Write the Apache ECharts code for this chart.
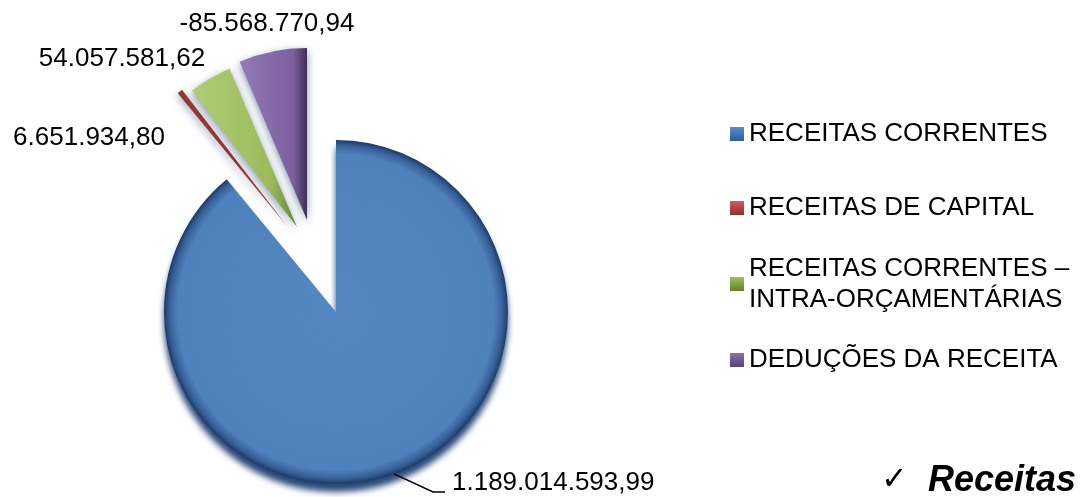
<!DOCTYPE html>
<html><head><meta charset="utf-8">
<script src="https://cdn.jsdelivr.net/npm/echarts@6/dist/echarts.min.js"></script>
<style>html,body{margin:0;padding:0;background:#fff}#c{width:1086px;height:497px}</style>
</head><body><div id="c"></div>
<script>
// ---- data ----
const categories = ['RECEITAS CORRENTES', 'RECEITAS DE CAPITAL', 'RECEITAS CORRENTES – INTRA-ORÇAMENTÁRIAS', 'DEDUÇÕES DA RECEITA'];
const values = [1189014593.99, 6651934.80, 54057581.62, -85568770.94];
const legendLabels = ['RECEITAS CORRENTES', 'RECEITAS DE CAPITAL', 'RECEITAS CORRENTES –\nINTRA-ORÇAMENTÁRIAS', 'DEDUÇÕES DA RECEITA'];
const noteText = 'Receitas';

// ---- helpers ----
function fmtBR(v) {
  const neg = v < 0;
  let [i, d] = Math.abs(v).toFixed(2).split('.');
  i = i.replace(/\B(?=(\d{3})+(?!\d))/g, '.');
  return (neg ? '-' : '') + i + ',' + d;
}
const G = echarts.graphic;
const fills = [
  new G.RadialGradient(0.5, 0.5, 0.5, [
    {offset: 0, color: '#5587c3'}, {offset: 0.92, color: '#4f81bd'},
    {offset: 0.97, color: '#365f97'}, {offset: 1, color: '#1d3a63'}]),
  '#943634',
  new G.LinearGradient(0, 0, 1, 0, [
    {offset: 0, color: '#b0cd76'}, {offset: 0.75, color: '#9bbb59'}, {offset: 1, color: '#66823a'}]),
  new G.LinearGradient(0, 0, 1, 0, [
    {offset: 0, color: '#937ab6'}, {offset: 0.8, color: '#7c5f9f'}, {offset: 1, color: '#3d2e52'}])
];
const legendColors = [['#5d8ccb', '#2f5d99'], ['#d0605c', '#8e2f2d'], ['#9dbf5c', '#647f2f'], ['#8a70ad', '#55427a']];
const legendCenters = [134, 208, 284, 360];
const spots = {1: [89, 138], 2: [122, 59], 3: [267, 24]};

// each slice drawn by its own pie (same data), the small ones exploded away from the centre
const pieCenters = [[336, 312], [287, 226], [297, 227], [307, 220]];
const R = 172;
const pieData = categories.map((c, i) => ({name: c, value: Math.abs(values[i])}));
const clear = 'rgba(0,0,0,0)';

function slicePie(k) {
  return {
    type: 'pie', center: pieCenters[k], radius: R, startAngle: 90, clockwise: true,
    silent: true, selectedMode: false, emphasis: {disabled: true},
    label: {show: false}, labelLine: {show: false},
    z: k === 0 ? 2 : 3,
    data: pieData.map((d, i) => Object.assign({}, d, {
      itemStyle: i === k
        ? (k === 0
          ? {color: fills[i], shadowBlur: 6, shadowColor: 'rgba(30,62,112,0.95)', shadowOffsetY: 8}
          : {color: fills[i], shadowBlur: 8, shadowColor: 'rgba(25,55,100,0.55)', shadowOffsetY: 3})
        : {color: clear, shadowBlur: 0}
    }))
  };
}

const option = {
  backgroundColor: '#fff',
  animation: false,
  title: {
    text: '{c|✓}{r|' + noteText + '}',
    left: 881, top: 461, padding: 0,
    textStyle: {
      rich: {
        c: {fontSize: 32, fontFamily: 'DejaVu Sans', color: '#000', width: 47, lineHeight: 40},
        r: {fontSize: 36, fontFamily: 'Liberation Sans', fontWeight: 'bold', fontStyle: 'italic', color: '#000', lineHeight: 40}
      }
    }
  },
  legend: categories.map((c, i) => ({
    data: [{name: c, itemStyle: {
      color: new G.LinearGradient(0, 0, 0, 1, [{offset: 0, color: legendColors[i][0]}, {offset: 1, color: legendColors[i][1]}]),
      borderWidth: 0, shadowBlur: 0}}],
    orient: 'vertical',
    left: 730,
    top: legendCenters[i] - (i === 2 ? 46.5 : 15.5),
    padding: 0,
    itemWidth: 14, itemHeight: 14, itemGap: 0,
    icon: 'rect',
    selectedMode: false,
    formatter: () => legendLabels[i],
    textStyle: Object.assign({fontFamily: 'Liberation Sans, Arial, sans-serif', fontSize: 26, color: '#000', lineHeight: 31},
      i === 2 ? {padding: [31, 0, 0, 0]} : {})
  })),
  series: [
    slicePie(0), slicePie(1), slicePie(2), slicePie(3),
    // same data again, transparent, only to carry the value labels
    {
      type: 'pie', center: pieCenters[0], radius: R, startAngle: 90, clockwise: true,
      silent: true, selectedMode: false, emphasis: {disabled: true},
      avoidLabelOverlap: false, z: 4,
      itemStyle: {color: clear},
      label: {
        show: true, position: 'outside',
        formatter: p => fmtBR(values[p.dataIndex]),
        fontFamily: 'Liberation Sans, Arial, sans-serif', fontSize: 26, color: '#000'
      },
      labelLine: {show: true, length: 20, length2: 10, smooth: false, lineStyle: {color: '#000', width: 1.5}},
      labelLayout: function (p) {
        if (p.dataIndex === 0) {
          const x = 452, y = 483;
          const r = {x: x, y: y, align: 'left', verticalAlign: 'middle'};
          if (p.labelLinePoints) r.labelLinePoints = [p.labelLinePoints[0], [x - 19, y + 9], [x - 7, y + 9]];
          return r;
        }
        const s = spots[p.dataIndex];
        return {x: s[0], y: s[1], align: 'center', verticalAlign: 'middle'};
      },
      data: pieData.map((d, i) => Object.assign({}, d, {labelLine: {show: i === 0}}))
    }
  ]
};
const chart = echarts.init(document.getElementById('c'), null, {renderer: 'canvas'});
chart.setOption(option);
</script></body></html>
